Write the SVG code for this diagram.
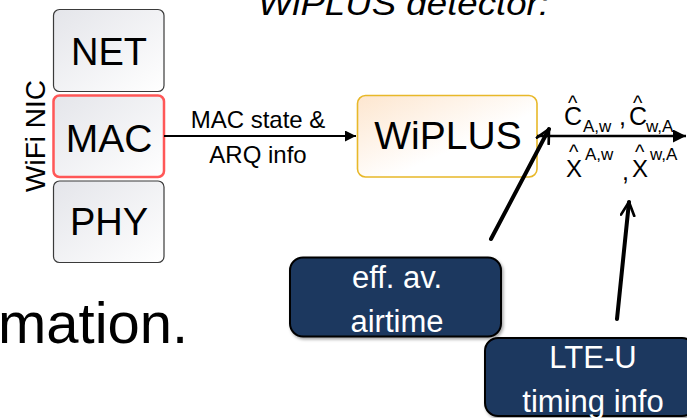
<svg xmlns="http://www.w3.org/2000/svg" width="687" height="418" viewBox="0 0 687 418">
<defs>
<style>
.t{font-family:"Liberation Sans",Arial,sans-serif;fill:#000}
.layer{stroke:#3a3a3a;stroke-width:1.2;fill:url(#gGray)}
.navy{fill:#1c375e;stroke:#000;stroke-width:2;filter:url(#sh)}
.w{font-family:"Liberation Sans",Arial,sans-serif;fill:#fff;font-size:31px;text-anchor:middle}
.thin{stroke:#000;stroke-width:2.2;fill:none}
.thick{stroke:#000;stroke-width:4;fill:none;stroke-linecap:round}
</style>
<linearGradient id="gGray" x1="0" y1="0" x2="1" y2="1">
<stop offset="0" stop-color="#e4e5ea"/><stop offset="1" stop-color="#ffffff"/>
</linearGradient>
<linearGradient id="gOr" x1="0" y1="0" x2="1" y2="1">
<stop offset="0" stop-color="#fde6cf"/><stop offset="0.6" stop-color="#ffffff"/>
</linearGradient>
<filter id="sh" x="-10%" y="-10%" width="125%" height="130%">
<feDropShadow dx="1.5" dy="2" stdDeviation="1.5" flood-color="#000" flood-opacity="0.35"/>
</filter>
<marker id="ah" viewBox="0 0 10 10" refX="10" refY="5" markerWidth="5" markerHeight="5" markerUnits="strokeWidth" orient="auto">
<path d="M0,0 L10,5 L0,10 z" fill="#000"/>
</marker>
<marker id="open" viewBox="0 0 12 12" refX="11" refY="6" markerWidth="4" markerHeight="4" markerUnits="strokeWidth" orient="auto">
<path d="M1,1 L11,6 L1,11" fill="none" stroke="#000" stroke-width="2" stroke-linecap="round" stroke-linejoin="round"/>
</marker>
</defs>

<text class="t" x="258" y="15" font-size="34" font-style="italic" textLength="291" lengthAdjust="spacingAndGlyphs">WiPLUS detector:</text>
<text class="t" x="-2" y="343" font-size="58">mation.</text>

<text class="t" transform="translate(45,136) rotate(-90)" font-size="28" text-anchor="middle">WiFi NIC</text>

<g id="net">
<rect class="layer" x="53.5" y="9.5" width="110.5" height="82" rx="6"/>
<text class="t" x="109" y="65" font-size="38" text-anchor="middle">NET</text>
</g>
<g id="mac">
<rect x="53.5" y="95.5" width="110.5" height="81.5" rx="6" fill="url(#gGray)" stroke="#ff5757" stroke-width="2.5"/>
<text class="t" x="109" y="152" font-size="39" text-anchor="middle">MAC</text>
</g>
<g id="phy">
<rect class="layer" x="53.5" y="181" width="110.5" height="81.5" rx="6"/>
<text class="t" x="109" y="235" font-size="38" text-anchor="middle">PHY</text>
</g>

<g id="wiplus">
<rect x="357.5" y="95.5" width="179.5" height="81.5" rx="8" fill="url(#gOr)" stroke="#e8b829" stroke-width="1.6"/>
<text class="t" x="448" y="149" font-size="39" text-anchor="middle">WiPLUS</text>
</g>

<g id="eff">
<rect class="navy" x="290" y="257.5" width="211" height="79" rx="13"/>
<text class="w" x="397" y="288">eff. av.</text>
<text class="w" x="397" y="332">airtime</text>
</g>
<g id="lte">
<rect class="navy" x="485" y="338" width="210" height="78" rx="13"/>
<text class="w" x="593" y="368">LTE-U</text>
<text class="w" x="593" y="412">timing info</text>
</g>

<g id="connectors">
<line class="thin" x1="164" y1="136" x2="356" y2="136" marker-end="url(#ah)"/>
<text class="t" x="258" y="128" font-size="24" text-anchor="middle">MAC state &amp;</text>
<text class="t" x="258" y="163" font-size="24" text-anchor="middle">ARQ info</text>
<line x1="537" y1="136" x2="686" y2="136" stroke="#000" stroke-width="2.6" marker-end="url(#ah)"/>
<line class="thick" x1="491" y1="239" x2="549" y2="129" marker-end="url(#open)"/>
<line class="thick" x1="617" y1="319" x2="629" y2="202" marker-end="url(#open)"/>
</g>

<g id="labels" class="t">
<text x="564" y="125" font-size="25">C</text>
<text x="568" y="110" font-size="20">^</text>
<text x="583" y="132" font-size="17">A,w</text>
<text x="619" y="125" font-size="25">,</text>
<text x="629" y="125" font-size="25">C</text>
<text x="633" y="110" font-size="20">^</text>
<text x="646" y="132" font-size="17">w,A</text>
<text x="566" y="177" font-size="24">X</text>
<text x="569" y="159" font-size="20">^</text>
<text x="585" y="160" font-size="17">A,w</text>
<text x="622" y="180" font-size="25">,</text>
<text x="632" y="177" font-size="24">X</text>
<text x="635" y="159" font-size="20">^</text>
<text x="650" y="160" font-size="17">w,A</text>
</g>
</svg>
